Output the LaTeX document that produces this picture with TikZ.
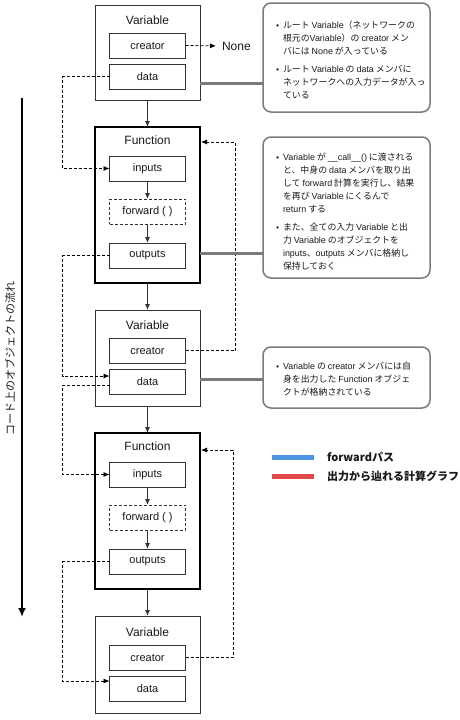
\documentclass[tikz,border=0pt]{standalone}
\usepackage{fontspec}
\setmainfont{Liberation Sans}
\newfontfamily\jp{Noto Sans CJK JP}
\newfontfamily\latn{Liberation Sans}
\newcommand{\en}[1]{{\latn #1}}
\usetikzlibrary{arrows.meta}
\definecolor{boxc}{HTML}{333333}
\definecolor{txt}{HTML}{1A1A1A}
\definecolor{notec}{HTML}{7A7A7A}
\definecolor{fwdblue}{HTML}{4A94E4}
\definecolor{gradred}{HTML}{E54848}
\begin{document}
\begin{tikzpicture}[x=1pt,y=-1pt,
  every node/.style={inner sep=0pt, outer sep=0pt, text=txt},
  varbox/.style={draw=boxc, line width=0.9pt, minimum width=105pt},
  funbox/.style={draw=black, line width=2.4pt, minimum width=105pt, minimum height=156pt},
  member/.style={draw=boxc, line width=0.9pt, minimum width=76pt, minimum height=25pt, font=\fontsize{11}{13}\selectfont},
  fwdbox/.style={member, dash pattern=on 3pt off 2pt},
  boxtitle/.style={font=\fontsize{12}{14}\selectfont},
  flowarr/.style={draw=boxc, line width=0.9pt, -{Latex[length=6pt,width=5pt]}},
  refline/.style={draw=black, line width=0.8pt, dash pattern=on 3pt off 2pt},
  refarr/.style={refline, -{Latex[length=6pt,width=5pt]}},
  notebox/.style={draw=notec, line width=1.5pt, rounded corners=8pt, minimum width=167pt},
  noteline/.style={draw=notec, line width=3pt},
  notetext/.style={anchor=north west, align=left, font=\jp\fontsize{8.9}{13}\selectfont},
  legtext/.style={anchor=west, font=\jp\bfseries\fontsize{11}{13}\selectfont},
]
\useasboundingbox (0,0) rectangle (460,720);
\fill[white] (0,0) rectangle (460,720);

% flow arrow on the left
\coordinate (fs) at (22,98);
\coordinate (fe) at (22,617);
\draw[black, line width=2pt, -{Latex[length=9pt,width=8pt]}] (fs) -- (fe);
\node[rotate=90, font=\jp\fontsize{11}{13}\selectfont] (flowlbl) at (10,358) {コード上のオブジェクトの流れ};

% Variable 1
\node[varbox, minimum height=95pt] (v1) at (147.5,52.5) {};
\node[boxtitle] (v1t) at (147.5,20) {Variable};
\node[member] (v1c) at (147.5,45.5) {creator};
\node[member] (v1d) at (147.5,76.5) {data};
\node[anchor=west, font=\fontsize{12}{14}\selectfont] (none) at (222,46) {None};
\draw[refarr, shorten >=6pt] (v1c.east) -- (none.west);

% Function 1
\node[funbox] (f1) at (147.5,205) {};
\node[boxtitle] (f1t) at (147.5,140) {Function};
\node[member] (f1i) at (147.5,168.5) {inputs};
\node[fwdbox] (f1f) at (147.5,211.5) {forward ( )};
\node[member] (f1o) at (147.5,255.5) {outputs};
\draw[flowarr] (f1i) -- (f1f);
\draw[flowarr] (f1f) -- (f1o);

% Variable 2
\node[varbox, minimum height=96pt] (v2) at (147.5,358) {};
\node[boxtitle] (v2t) at (147.5,325) {Variable};
\node[member] (v2c) at (147.5,350.5) {creator};
\node[member] (v2d) at (147.5,382) {data};

% Function 2
\node[funbox] (f2) at (147.5,511) {};
\node[boxtitle] (f2t) at (147.5,446) {Function};
\node[member] (f2i) at (147.5,474.5) {inputs};
\node[fwdbox] (f2f) at (147.5,517.5) {forward ( )};
\node[member] (f2o) at (147.5,561.5) {outputs};
\draw[flowarr] (f2i) -- (f2f);
\draw[flowarr] (f2f) -- (f2o);

% Variable 3
\node[varbox, minimum height=97pt] (v3) at (147.5,664.5) {};
\node[boxtitle] (v3t) at (147.5,632) {Variable};
\node[member] (v3c) at (147.5,657.5) {creator};
\node[member] (v3d) at (147.5,688.5) {data};

% forward flow between boxes
\draw[flowarr] (v1) -- (f1);
\draw[flowarr] (f1) -- (v2);
\draw[flowarr] (v2) -- (f2);
\draw[flowarr] (f2) -- (v3);

% dashed reference links
\draw[refarr] (v1d.west) -- ++(-47,0) |- (f1i.west);
\draw[refarr] (f1o.west) -- ++(-47,0) |- ([yshift=6pt]v2d.west);
\draw[refarr] ([yshift=-3pt]v2d.west) -- ++(-47,0) |- (f2i.west);
\draw[refarr] (f2o.west) -- ++(-47,0) |- ([yshift=7.5pt]v3d.west);
\draw[refarr, shorten >=1pt] (v2c.east) -- ++(50,0) |- ([yshift=63pt]f1.east);
\draw[refarr, shorten >=1pt] (v3c.east) -- ++(47.5,0) |- ([yshift=61pt]f2.east);

% callouts
\node[notebox, minimum height=109pt] (c1) at (346.5,57.5) {};
\node[notebox, minimum height=141pt] (c2) at (346.5,207.5) {};
\node[notebox, minimum height=61pt] (c3) at (346.5,377.5) {};

\coordinate (a1) at ([yshift=-30.5pt]v1.east);
\draw[noteline] (a1) -- (a1 -| c1.west);
\coordinate (a2) at ([yshift=-48pt]f1.east);
\draw[noteline] (a2) -- (a2 -| c2.west);
\coordinate (a3) at ([yshift=-21pt]v2.east);
\draw[noteline] (a3) -- (a3 -| c3.west);

\node[notetext] (c1t) at (276,19) {\begin{tabular}{@{}l@{\hspace{4pt}}l@{}}
\textbullet & ルート \en{Variable}（ネットワークの\\
 & 根元の\en{Variable}）の \en{creator} メン\\
 & バには \en{None} が入っている\\[5pt]
\textbullet & ルート \en{Variable} の \en{data} メンバに\\
 & ネットワークへの入力データが入っ\\
 & ている
\end{tabular}};

\node[notetext] (c2t) at (276,151) {\begin{tabular}{@{}l@{\hspace{4pt}}l@{}}
\textbullet & \en{Variable} が \en{\_\_call\_\_()} に渡される\\
 & と、中身の \en{data} メンバを取り出\\
 & して \en{forward} 計算を実行し、結果\\
 & を再び \en{Variable} にくるんで\\
 & \en{return} する\\[5pt]
\textbullet & また、全ての入力 \en{Variable} と出\\
 & 力 \en{Variable} のオブジェクトを\\
 & \en{inputs}、\en{outputs} メンバに格納し\\
 & 保持しておく
\end{tabular}};

\node[notetext] (c3t) at (276,360) {\begin{tabular}{@{}l@{\hspace{4pt}}l@{}}
\textbullet & \en{Variable} の \en{creator} メンバには自\\
 & 身を出力した \en{Function} オブジェ\\
 & クトが格納されている
\end{tabular}};

% legend
\node[fill=fwdblue, minimum width=42pt, minimum height=5pt] (lb) at (293,457) {};
\node[legtext] (lbt) at (327,457) {forwardパス};
\node[fill=gradred, minimum width=42pt, minimum height=5pt] (lr) at (293,476) {};
\node[legtext] (lrt) at (327,476) {出力から辿れる計算グラフ};
\end{tikzpicture}
\end{document}
